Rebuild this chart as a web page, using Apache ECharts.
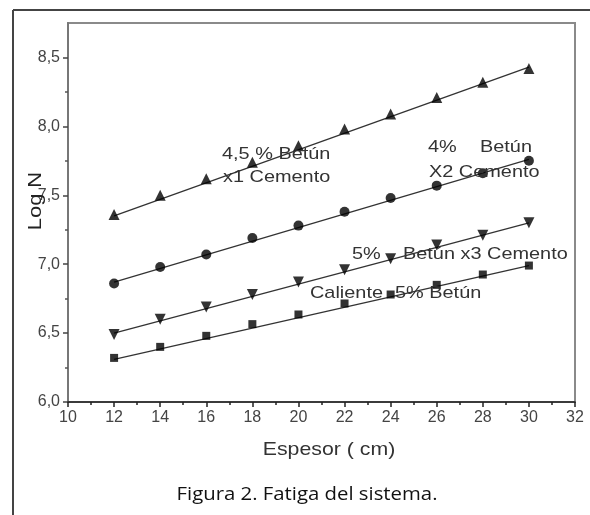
<!DOCTYPE html>
<html>
<head>
<meta charset="utf-8">
<script src="https://cdn.jsdelivr.net/npm/echarts@6/dist/echarts.min.js"></script>
<style>
html,body{margin:0;padding:0;background:#fff;}
#c{width:590px;height:515px;}
</style>
</head>
<body>
<div id="c"></div>
<script>
// ---- data ----
var espesor = [12, 14, 16, 18, 20, 22, 24, 26, 28, 30];
var s45x1 = [7.36, 7.50, 7.62, 7.74, 7.86, 7.98, 8.09, 8.21, 8.32, 8.42];
var s4x2  = [6.86, 6.98, 7.07, 7.19, 7.28, 7.38, 7.48, 7.57, 7.66, 7.75];
var s5x3  = [6.49, 6.60, 6.69, 6.78, 6.87, 6.96, 7.04, 7.14, 7.21, 7.30];
var sCal  = [6.32, 6.40, 6.48, 6.565, 6.635, 6.715, 6.78, 6.85, 6.925, 6.99];
// fitted straight lines (end points)
var fitX = [12, 30];
var fit45x1 = [7.35, 8.43];
var fit4x2  = [6.87, 7.76];
var fit5x3  = [6.50, 7.30];
var fitCal  = [6.31, 6.99];
// axis ticks
var xTicks = [10, 12, 14, 16, 18, 20, 22, 24, 26, 28, 30, 32];
var yTicks = [6.0, 6.5, 7.0, 7.5, 8.0, 8.5];
var yMinorTicks = [6.25, 6.75, 7.25, 7.75, 8.25];
var xTitle = 'Espesor ( cm)';
var yTitle = 'Log N';
var caption = 'Figura 2. Fatiga del sistema.';

function pairs(xs, ys){ return xs.map(function(x,i){ return [x, ys[i]]; }); }

var labelFont = 'Liberation Sans, Arial, sans-serif';
var chart = echarts.init(document.getElementById('c'), null, {renderer:'canvas'});

function pointSeries(data, symbol, size, rotate){
  return {
    type:'scatter', data: pairs(espesor, data), symbol: symbol, symbolSize: size,
    symbolRotate: rotate || 0, itemStyle:{color:'#000'}, z:5, silent:true
  };
}
function fitSeries(data){
  return {
    type:'line', data: pairs(fitX, data), showSymbol:false, symbol:'none',
    lineStyle:{color:'#333', width:1.3}, z:4, silent:true
  };
}
function note(text, x, y){
  return {type:'text', x:x, y:y, scaleX:1.17,
    style:{text:text, font:'17px '+labelFont, fill:'#333', textVerticalAlign:'middle'}, z:10};
}

var option = {
  animation:false,
  backgroundColor:'#fff',
  grid:{left:68, right:15, top:23, bottom:113, show:true, borderColor:'#8a8a8a', borderWidth:2},
  xAxis:{
    type:'value', min:10, max:32, interval:2,
    axisLine:{show:true, onZero:false, lineStyle:{color:'#222', width:1.5}},
    axisTick:{show:true, length:5, lineStyle:{color:'#222', width:1.5}},
    minorTick:{show:true, splitNumber:2, length:3, lineStyle:{color:'#222', width:1.5}},
    splitLine:{show:false},
    axisLabel:{color:'#444', fontSize:16, fontFamily:labelFont, margin:8,
      customValues: xTicks}
  },
  yAxis:[{
    type:'value', min:6, max:8.75,
    axisLine:{show:true, lineStyle:{color:'#777', width:2}},
    axisTick:{show:true, length:5, customValues: yTicks, lineStyle:{color:'#444', width:1.5}},
    splitLine:{show:false},
    axisLabel:{color:'#444', fontSize:16, fontFamily:labelFont, margin:8,
      customValues: yTicks,
      formatter:function(v){ return v.toFixed(1).replace('.', ','); }}
  },{
    type:'value', min:6, max:8.75, position:'left',
    axisLine:{show:false},
    axisTick:{show:true, length:3, customValues: yMinorTicks, lineStyle:{color:'#555', width:1.5}},
    axisLabel:{show:false},
    splitLine:{show:false}
  }],
  series:[
    fitSeries(fit45x1), fitSeries(fit4x2), fitSeries(fit5x3), fitSeries(fitCal),
    pointSeries(s45x1, 'triangle', 11, 0),
    pointSeries(s4x2, 'circle', 10, 0),
    pointSeries(s5x3, 'triangle', 11, 180),
    pointSeries(sCal, 'rect', 8, 0)
  ],
  graphic:[
    {type:'line', shape:{x1:13, y1:10, x2:590, y2:10}, style:{stroke:'#444', lineWidth:2}, silent:true},
    {type:'line', shape:{x1:13, y1:10, x2:13, y2:515}, style:{stroke:'#444', lineWidth:2}, silent:true},
    note('4,5 % Betún', 222, 154),
    note('x1 Cemento', 223, 177),
    note('4%', 428, 147),
    note('Betún', 480, 147),
    note('X2 Cemento', 429, 172),
    note('5%', 352, 254),
    note('Betún x3 Cemento', 403, 254),
    note('Caliente', 310, 293),
    note('5% Betún', 395, 293),
    {type:'text', x:329, y:450, scaleX:1.12, style:{text:xTitle, font:'19px '+labelFont, fill:'#333', textAlign:'center', textVerticalAlign:'middle'}, z:10},
    {type:'text', x:36, y:201, rotation:Math.PI/2, scaleX:1.15, style:{text:yTitle, font:'19px '+labelFont, fill:'#222', textAlign:'center', textVerticalAlign:'middle'}, z:10},
    {type:'text', x:307, y:495, scaleX:1.07, style:{text:caption, font:'19px "Open Sans", "Noto Sans", sans-serif', fill:'#111', textAlign:'center', textVerticalAlign:'middle'}, z:10}
  ]
};
chart.setOption(option);
</script>
</body>
</html>
